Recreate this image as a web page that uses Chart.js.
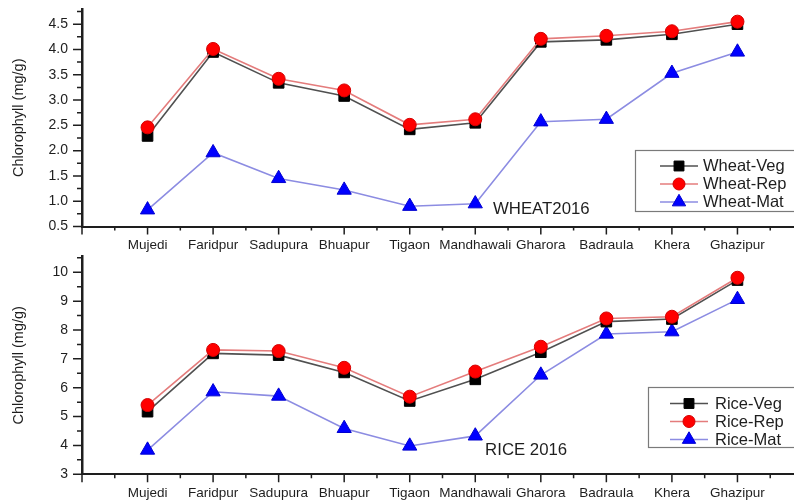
<!DOCTYPE html>
<html>
<head>
<meta charset="utf-8">
<title>Chlorophyll content – Wheat and Rice 2016</title>
<script src="https://cdn.jsdelivr.net/npm/chart.js@4.4.1/dist/chart.umd.min.js"></script>
<style>
  html, body { margin: 0; padding: 0; background: #fff; }
  body { width: 794px; height: 500px; overflow: hidden; position: relative; }
  .panel { position: absolute; left: 0; }
  #wheatPanel { top: 0; }
  #ricePanel { top: 250px; }
</style>
</head>
<body>
<div class="panel" id="wheatPanel"><canvas id="wheatChart" width="830" height="252"></canvas></div>
<div class="panel" id="ricePanel"><canvas id="riceChart" width="830" height="250"></canvas></div>
<script>
// Sampling sites (x axis)
const categories = ['Mujedi', 'Faridpur', 'Sadupura', 'Bhuapur', 'Tigaon',
                    'Mandhawali', 'Gharora', 'Badraula', 'Khera', 'Ghazipur'];

// Wheat chlorophyll (mg/g) at vegetative, reproductive and maturity stages
const wheatVeg = [2.29, 3.95, 3.34, 3.08, 2.42, 2.55, 4.15, 4.19, 4.30, 4.50];
const wheatRep = [2.46, 4.01, 3.42, 3.19, 2.51, 2.62, 4.21, 4.27, 4.36, 4.55];
const wheatMat = [0.83, 1.96, 1.45, 1.22, 0.90, 0.95, 2.57, 2.62, 3.53, 3.95];

// Rice chlorophyll (mg/g) at the same stages
const riceVeg = [5.17, 7.19, 7.13, 6.53, 5.54, 6.29, 7.23, 8.29, 8.38, 9.73];
const riceRep = [5.40, 7.31, 7.27, 6.69, 5.69, 6.56, 7.42, 8.40, 8.46, 9.81];
const riceMat = [3.84, 5.86, 5.71, 4.59, 3.98, 4.33, 6.44, 7.86, 7.94, 9.06];

// Y-axis tick labels
const wheatTicks = [0.5, 1.0, 1.5, 2.0, 2.5, 3.0, 3.5, 4.0, 4.5];
const riceTicks = [3, 4, 5, 6, 7, 8, 9, 10];

const FONT = "'Liberation Sans', Arial, Helvetica, sans-serif";
const INK = '#1e1e1e';

function toPoints(values) {
  return values.map((v, i) => ({ x: i, y: v }));
}

function seriesStyle(kind) {
  if (kind === 'veg') return {
    borderColor: '#505050', pointStyle: 'rect', pointRadius: 7.5,
    pointBackgroundColor: '#000000', pointBorderColor: '#000000', order: 2
  };
  if (kind === 'rep') return {
    borderColor: '#e47c7c', pointStyle: 'circle', pointRadius: 6.5,
    pointBackgroundColor: '#ff0000', pointBorderColor: '#d40000', order: 1
  };
  return {
    borderColor: '#8c8ce2', pointStyle: 'triangle', pointRadius: 8.2,
    pointBackgroundColor: '#0000ff', pointBorderColor: '#0000d0', order: 3
  };
}

function makeDataset(label, values, kind) {
  return Object.assign({
    label: label,
    data: toPoints(values),
    borderWidth: 1.6,
    pointBorderWidth: 1,
    pointHoverRadius: 7,
    tension: 0,
    fill: false,
    clip: false
  }, seriesStyle(kind));
}

// Major / minor tick marks drawn outward from both axes
const tickMarks = {
  id: 'tickMarks',
  afterDraw(chart, args, opts) {
    const { ctx, chartArea: a } = chart;
    const xs = chart.scales.x, ys = chart.scales.y;
    ctx.save();
    ctx.strokeStyle = INK;
    ctx.lineWidth = 1.5;
    ctx.beginPath();
    const nx = Math.round((xs.max - xs.min) / 0.5);
    for (let k = 0; k <= nx; k++) {
      const v = xs.min + k * 0.5;
      const px = xs.getPixelForValue(v);
      const len = (k % 2 === 0) ? 8 : 4;
      ctx.moveTo(px, a.bottom);
      ctx.lineTo(px, a.bottom + len);
    }
    const ny = Math.floor((ys.max - ys.min) / opts.yMinor + 1e-6);
    for (let k = 0; k <= ny; k++) {
      const v = ys.min + k * opts.yMinor;
      const py = ys.getPixelForValue(v);
      const major = opts.yMajor.some(t => Math.abs(t - v) < 1e-6);
      const len = major ? 9 : 5;
      ctx.moveTo(a.left, py);
      ctx.lineTo(a.left - len, py);
    }
    ctx.stroke();
    ctx.restore();
  }
};

// Boxed legend placed inside the plot, plus the crop/year caption
const boxLegend = {
  id: 'boxLegend',
  afterDraw(chart, args, opts) {
    const { ctx } = chart;
    const b = opts.box;
    ctx.save();
    ctx.fillStyle = '#ffffff';
    ctx.fillRect(b.left, b.top, b.right - b.left, b.bottom - b.top);
    ctx.strokeStyle = '#7a7a7a';
    ctx.lineWidth = 1.2;
    ctx.strokeRect(b.left + 0.5, b.top + 0.5, b.right - b.left, b.bottom - b.top);

    chart.data.datasets.forEach((ds, row) => {
      const y = opts.rows[row];
      ctx.strokeStyle = ds.borderColor;
      ctx.lineWidth = 1.5;
      ctx.beginPath();
      ctx.moveTo(opts.lineFrom, y);
      ctx.lineTo(opts.lineTo, y);
      ctx.stroke();
      ctx.fillStyle = ds.pointBackgroundColor;
      ctx.strokeStyle = ds.pointBorderColor;
      ctx.lineWidth = 1;
      Chart.helpers.drawPoint(ctx, {
        pointStyle: ds.pointStyle, radius: ds.pointRadius - 0.5,
        rotation: 0, borderWidth: 1
      }, (opts.lineFrom + opts.lineTo) / 2, y);
      ctx.fillStyle = INK;
      ctx.font = '16.5px ' + FONT;
      ctx.textAlign = 'left';
      ctx.textBaseline = 'middle';
      ctx.fillText(ds.label, opts.textX, y + 0.5);
    });

    const c = opts.caption;
    ctx.fillStyle = INK;
    ctx.font = '16.8px ' + FONT;
    ctx.textAlign = 'left';
    ctx.textBaseline = 'middle';
    ctx.fillText(c.text, chart.scales.x.getPixelForValue(c.x), chart.scales.y.getPixelForValue(c.y));
    ctx.restore();
  }
};

function buildChart(canvasId, cfg) {
  return new Chart(document.getElementById(canvasId), {
    type: 'line',
    data: { datasets: cfg.datasets },
    options: {
      responsive: false,
      animation: false,
      events: [],
      layout: { autoPadding: false, padding: { top: cfg.padTop, right: 27, left: 0, bottom: 0 } },
      scales: {
        x: {
          type: 'linear', min: -1, max: 10,
          afterBuildTicks: s => { s.ticks = categories.map((c, i) => ({ value: i })); },
          afterFit: s => {
            s.height = cfg.xHeight;
            s.paddingLeft = 0; s.paddingRight = 0; s.paddingTop = 0; s.paddingBottom = 0;
          },
          ticks: {
            autoSkip: false, maxRotation: 0, minRotation: 0, padding: 11,
            color: INK, font: { family: FONT, size: 13.5 },
            callback: v => categories[v] ?? ''
          },
          grid: { drawOnChartArea: false, drawTicks: false },
          border: { display: true, color: INK, width: 2 }
        },
        y: {
          type: 'linear', min: cfg.yMin, max: cfg.yMax,
          afterBuildTicks: s => { s.ticks = cfg.yTicks.map(v => ({ value: v })); },
          afterFit: s => {
            s.width = 82;
            s.paddingLeft = 0; s.paddingRight = 0; s.paddingTop = 0; s.paddingBottom = 0;
          },
          ticks: {
            padding: 14, color: INK, font: { family: FONT, size: 14 },
            callback: cfg.tickFormat
          },
          grid: { drawOnChartArea: false, drawTicks: false },
          border: { display: true, color: INK, width: 2.5 },
          title: {
            display: true, text: 'Chlorophyll (mg/g)', color: INK,
            font: { family: FONT, size: 14.5 }, padding: { top: 10, bottom: 0 }
          }
        }
      },
      plugins: {
        legend: { display: false },
        tooltip: { enabled: false },
        tickMarks: { yMinor: cfg.yMinor, yMajor: cfg.yTicks },
        boxLegend: cfg.legend
      }
    },
    plugins: [tickMarks, boxLegend]
  });
}

buildChart('wheatChart', {
  datasets: [
    makeDataset('Wheat-Veg', wheatVeg, 'veg'),
    makeDataset('Wheat-Rep', wheatRep, 'rep'),
    makeDataset('Wheat-Mat', wheatMat, 'mat')
  ],
  padTop: 9, xHeight: 25.5,
  yMin: 0.5, yMax: 4.8, yMinor: 0.25, yTicks: wheatTicks,
  tickFormat: v => Number(v).toFixed(1),
  legend: {
    box: { left: 635, top: 150, right: 820, bottom: 211 },
    rows: [166, 184, 202], lineFrom: 660, lineTo: 698, textX: 703,
    caption: { text: 'WHEAT2016', x: 5.27, y: 0.83 }
  }
});

buildChart('riceChart', {
  datasets: [
    makeDataset('Rice-Veg', riceVeg, 'veg'),
    makeDataset('Rice-Rep', riceRep, 'rep'),
    makeDataset('Rice-Mat', riceMat, 'mat')
  ],
  padTop: 6.4, xHeight: 25.7,
  yMin: 3, yMax: 10.55, yMinor: 0.5, yTicks: riceTicks,
  tickFormat: v => String(v),
  legend: {
    box: { left: 648, top: 137, right: 820, bottom: 197 },
    rows: [153.5, 171.5, 189.5], lineFrom: 670, lineTo: 708, textX: 715,
    caption: { text: 'RICE 2016', x: 5.15, y: 3.82 }
  }
});
</script>
</body>
</html>
